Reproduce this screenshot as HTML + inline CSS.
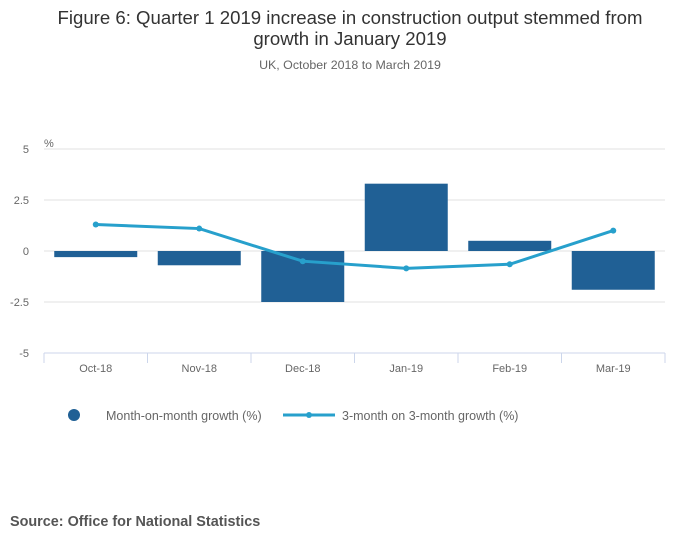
<!DOCTYPE html>
<html><head><meta charset="utf-8"><style>
body{margin:0;background:#fff;font-family:"Liberation Sans",sans-serif;}
svg text{font-family:"Liberation Sans",sans-serif;}
</style></head><body>
<svg id="chart" width="700" height="549" xmlns="http://www.w3.org/2000/svg">
<text x="350" y="24" text-anchor="middle" font-size="18.6" fill="#333">Figure 6: Quarter 1 2019 increase in construction output stemmed from</text>
<text x="350" y="45" text-anchor="middle" font-size="18.6" fill="#333">growth in January 2019</text>
<text x="350" y="69" text-anchor="middle" font-size="12.4" fill="#666">UK, October 2018 to March 2019</text>
<text x="44" y="147" font-size="11" fill="#666">%</text>
<g id="grid"></g><g id="bars"></g><g id="line"></g><g id="xaxis"></g>
<g>
<circle cx="74" cy="415" r="6" fill="#206095"/>
<text x="106" y="420" font-size="12.5" fill="#666">Month-on-month growth (%)</text>
<line x1="283" y1="415" x2="335" y2="415" stroke="#27a0cc" stroke-width="3"/>
<circle cx="309" cy="415" r="3" fill="#27a0cc"/>
<text x="342" y="420" font-size="12.5" fill="#666">3-month on 3-month growth (%)</text>
</g>
<text x="10" y="526" font-size="14.4" font-weight="bold" fill="#555">Source: Office for National Statistics</text>
</svg>
<script>
const categories=["Oct-18","Nov-18","Dec-18","Jan-19","Feb-19","Mar-19"];
const monthGrowth=[-0.3,-0.7,-2.5,3.3,0.5,-1.9];
const threeMonthGrowth=[1.3,1.1,-0.5,-0.85,-0.65,1.0];
const yTicks=[5,2.5,0,-2.5,-5];
const NS="http://www.w3.org/2000/svg";
const x0=44,x1=665,yTop=149,yBot=353;
const bw=(x1-x0)/categories.length;
const y=v=>yTop+(5-v)/10*(yBot-yTop);
const xc=i=>x0+bw*(i+0.5);
function mk(t,a,p){const e=document.createElementNS(NS,t);for(const k in a)e.setAttribute(k,a[k]);p.appendChild(e);return e;}
const g=document.getElementById('grid'),b=document.getElementById('bars'),l=document.getElementById('line'),xa=document.getElementById('xaxis');
yTicks.forEach(v=>{
 if(v!==-5){const ln=mk('line',{x1:x0,x2:x1,y1:y(v),y2:y(v),stroke:'#e0e0e0','stroke-width':1},g);
 
 }
 const t=mk('text',{x:29,y:y(v)+4,'text-anchor':'end','font-size':11,fill:'#666'},g);t.textContent=v;
 
 
});
const ax=mk('line',{x1:x0,x2:x1,y1:yBot,y2:yBot,stroke:'#ccd6eb','stroke-width':1},xa);


categories.forEach((c,i)=>{
 const tk=mk('line',{x1:x0+bw*i,x2:x0+bw*i,y1:yBot,y2:yBot+10,stroke:'#ccd6eb'},xa);
 
 
 const t=mk('text',{x:xc(i),y:372,'text-anchor':'middle','font-size':11,fill:'#666'},xa);t.textContent=c;
 
 
 const v=monthGrowth[i];
 const r=mk('rect',{x:xc(i)-41.5,width:83,y:Math.min(y(v),y(0)),height:Math.abs(y(v)-y(0)),fill:'#206095'},b);
 
 
});
const tkEnd=mk('line',{x1:x1,x2:x1,y1:yBot,y2:yBot+10,stroke:'#ccd6eb'},xa);


const pl=mk('polyline',{points:threeMonthGrowth.map((v,i)=>xc(i)+','+y(v)).join(' '),fill:'none',stroke:'#27a0cc','stroke-width':3},l);


threeMonthGrowth.forEach((v,i)=>{
 const p=mk('circle',{cx:xc(i),cy:y(v),r:3,fill:'#27a0cc'},l);
 
 
});
</script>
</body></html>
